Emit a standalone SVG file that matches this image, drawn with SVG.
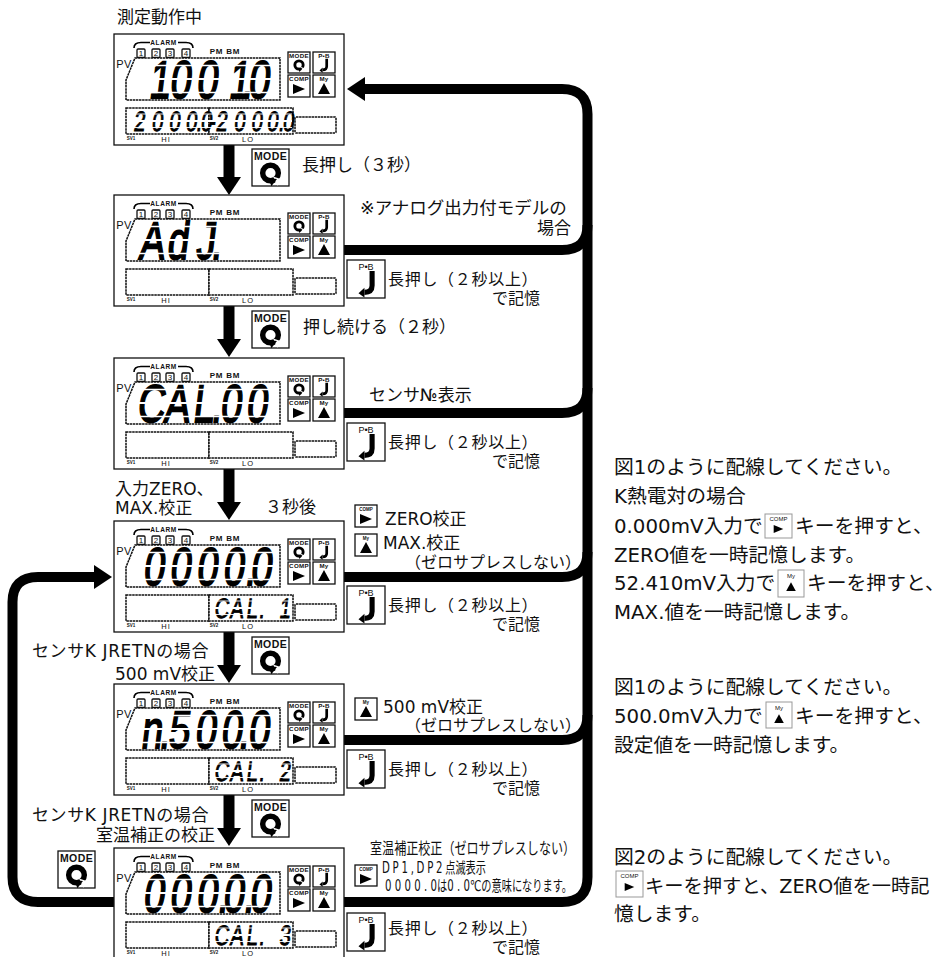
<svg xmlns="http://www.w3.org/2000/svg" width="943" height="957" viewBox="0 0 943 957">
<style>
text{font-family:"DejaVu Sans","Noto Sans CJK JP",sans-serif;fill:#111}
.t{font-size:17px}
.s{font-size:16px}
.p{font-size:16px;letter-spacing:.7px}
.r{font-size:19.8px}
.lab{font-family:"Liberation Sans",sans-serif;font-weight:700;text-anchor:middle}
.al{font-size:6.5px;letter-spacing:.6px}
.n{font-size:8px;font-weight:400}
.pm{font-size:8px;letter-spacing:.8px}
.pv{font-size:11px;font-weight:400;letter-spacing:.5px}
.k{font-size:6.2px;letter-spacing:.3px}
.ks{font-size:4.5px}
.ki{font-size:6px;font-weight:400}
.kl{font-size:10.5px;letter-spacing:.4px}
.pbl{font-size:9px;font-weight:400}
.sv{font-size:4.5px}
.hl{font-size:7.5px;font-weight:400;letter-spacing:1px}
.big,.mid{font-family:"Liberation Sans",sans-serif;font-weight:400;text-anchor:middle;fill:#000;stroke:#000}
.big{font-size:53px;stroke-width:1.8px}
.mid{font-size:28px;stroke-width:.9px}
.fr{fill:#fff;stroke:#111;stroke-width:1.3}
.lcd{fill:#fff;stroke:#111;stroke-width:1.5;stroke-dasharray:2.5 .6}
.key{fill:#fff;stroke:#111;stroke-width:1.3}
.lkey{fill:#fff;stroke:#999;stroke-width:1}
.gap{stroke:#fff;stroke-width:2;fill:none}
.gap2{stroke:#fff;stroke-width:1.3;fill:none}
.gap3{stroke:#fff;stroke-width:.9;fill:none}
.line{fill:none;stroke:#000;stroke-width:10}
.sh{stroke:#000;stroke-width:11;fill:none}
</style>
<defs>
<marker id="head" viewBox="0 0 18 24" refX="0" refY="12" markerUnits="userSpaceOnUse" markerWidth="18" markerHeight="24" orient="auto"><path d="M0,0L18,12L0,24Z" fill="#000"/></marker>
<g id="i-mode"><circle r="4.600" fill="none" stroke="#000" stroke-width="3.200"/><path d="M1.500,2L6,3.500L4,7.500Z" fill="#fff"/><path d="M-1.200,3L3.800,3.600L.5,7.800Z" fill="#000"/></g>
<g id="i-pb"><path d="M3,-7V1.500Q3,5.500-1.500,5.500" fill="none" stroke="#000" stroke-width="3"/><path d="M-1.500,2.800L-5,6L-1.500,8.500Z" fill="#000"/></g>
<path id="i-right" d="M-6,-5L6,0L-6,5Z" fill="#000"/>
<path id="i-up" d="M-6,5L0,-6L6,5Z" fill="#000"/>
<g id="frame">
<rect class="fr" x="0" y="0" width="230" height="111"/>
<path d="M20,14Q20,8.500 27,8.500H36M64,8.500H72Q79,8.500 79,14" fill="none" stroke="#000" stroke-width="1.600"/>
<rect class="key" x="23" y="15" width="8" height="8.500" rx="1"/><rect class="key" x="38" y="15" width="8" height="8.500" rx="1"/><rect class="key" x="52" y="15" width="8" height="8.500" rx="1"/><rect class="key" x="68" y="15" width="8" height="8.500" rx="1"/>
<path class="lcd" d="M21,24H166V66H12V46Z"/>
<rect class="key" x="174" y="18" width="22" height="21"/><rect class="key" x="199" y="18" width="22" height="21"/>
<rect class="key" x="174" y="41" width="22" height="22"/><rect class="key" x="199" y="41" width="22" height="22"/>
<use href="#i-mode" transform="translate(185,31) scale(.9)"/><use href="#i-pb" transform="translate(210,31) scale(.9)"/>
<use href="#i-right" transform="translate(185,55)"/><use href="#i-up" transform="translate(210,55)"/>
<rect class="lcd" x="12" y="74" width="83" height="26"/><rect class="lcd" x="95" y="74" width="84" height="26"/>
<rect class="lcd" x="181" y="83" width="41" height="16" rx="1"/>
</g>
</defs>
<rect width="943" height="957" fill="#fff"/>

<g id="connectors">
<path class="sh" marker-end="url(#head)" d="M229,144V177"/>
<path class="sh" marker-end="url(#head)" d="M229,305V339"/>
<path class="sh" marker-end="url(#head)" d="M229,468V502"/>
<path class="sh" marker-end="url(#head)" d="M229,632V665"/>
<path class="sh" marker-end="url(#head)" d="M229,795V828"/>
<path class="line" marker-end="url(#head)" d="M587.500,877V114Q587.500,89 562,89H365"/>
<path class="line" d="M344,250H562Q587.500,250 587.500,225"/>
<path class="line" d="M344,413H562Q587.500,413 587.500,388"/>
<path class="line" d="M344,577H562Q587.500,577 587.500,552"/>
<path class="line" d="M344,740H562Q587.500,740 587.500,715"/>
<path class="line" d="M344,902H562Q587.500,902 587.500,877"/>
<path class="line" marker-end="url(#head)" d="M114,902H38Q12.500,902 12.500,877V602Q12.500,577 38,577H94"/>
</g>

<g id="panel-1" transform="translate(114,34)">
<use href="#frame"/>
<text class="lab al" x="49.500" y="10.500">ALARM</text>
<text class="lab n" x="27" y="22">1</text><text class="lab n" x="42" y="22">2</text><text class="lab n" x="56" y="22">3</text><text class="lab n" x="72" y="22">4</text>
<text class="lab pm" x="111" y="20">PM BM</text><text class="lab pv" x="10" y="34">PV</text>
<text class="lab k" x="185" y="24">MODE</text><text class="lab k" x="210" y="24">P•B</text><text class="lab k" x="185" y="47">COMP</text><text class="lab k" x="210" y="47">My</text>
<text class="lab sv" x="17" y="106">SV1</text><text class="lab hl" x="52" y="108">HI</text><text class="lab sv" x="100" y="106">SV2</text><text class="lab hl" x="134" y="108">LO</text>
<text class="big" transform="translate(-2,64) skewX(-7) scale(.72,1)" x="65 94 131 150 176 187 203" xml:space="preserve">100 1.0</text>
<text class="mid" transform="translate(-1,97) skewX(-7) scale(.72,1)" x="36 61 85 108 119 129">2000.0</text>
<text class="mid" transform="translate(-1,97) skewX(-7) scale(.72,1)" x="137 150 175 199 221 233 243">-2000.0</text>
<path class="gap" d="M25,45H160M15,87H178"/><path class="gap2" d="M25,31.500H160M25,58.500H160"/><path class="gap3" d="M15,80H178M15,93.500H178"/>
</g>

<g id="panel-2" transform="translate(114,195)">
<use href="#frame"/>
<text class="lab al" x="49.500" y="10.500">ALARM</text>
<text class="lab n" x="27" y="22">1</text><text class="lab n" x="42" y="22">2</text><text class="lab n" x="56" y="22">3</text><text class="lab n" x="72" y="22">4</text>
<text class="lab pm" x="111" y="20">PM BM</text><text class="lab pv" x="10" y="34">PV</text>
<text class="lab k" x="185" y="24">MODE</text><text class="lab k" x="210" y="24">P•B</text><text class="lab k" x="185" y="47">COMP</text><text class="lab k" x="210" y="47">My</text>
<text class="lab sv" x="17" y="106">SV1</text><text class="lab hl" x="52" y="108">HI</text><text class="lab sv" x="100" y="106">SV2</text><text class="lab hl" x="134" y="108">LO</text>
<text class="big" transform="translate(-2,64) skewX(-7) scale(.72,1)" x="54 90 110 129 144" xml:space="preserve">Ad J.</text>
<path class="gap" d="M25,45H160"/><path class="gap2" d="M25,31.500H160M25,58.500H160"/>
</g>

<g id="panel-3" transform="translate(114,358)">
<use href="#frame"/>
<text class="lab al" x="49.500" y="10.500">ALARM</text>
<text class="lab n" x="27" y="22">1</text><text class="lab n" x="42" y="22">2</text><text class="lab n" x="56" y="22">3</text><text class="lab n" x="72" y="22">4</text>
<text class="lab pm" x="111" y="20">PM BM</text><text class="lab pv" x="10" y="34">PV</text>
<text class="lab k" x="185" y="24">MODE</text><text class="lab k" x="210" y="24">P•B</text><text class="lab k" x="185" y="47">COMP</text><text class="lab k" x="210" y="47">My</text>
<text class="lab sv" x="17" y="106">SV1</text><text class="lab hl" x="52" y="108">HI</text><text class="lab sv" x="100" y="106">SV2</text><text class="lab hl" x="134" y="108">LO</text>
<text class="big" transform="translate(-2,64) skewX(-7) scale(.72,1)" x="53 89 126 144 164 200">CAL.00</text>
<path class="gap" d="M25,45H160"/><path class="gap2" d="M25,31.500H160M25,58.500H160"/>
</g>

<g id="panel-4" transform="translate(114,521)">
<use href="#frame"/>
<text class="lab al" x="49.500" y="10.500">ALARM</text>
<text class="lab n" x="27" y="22">1</text><text class="lab n" x="42" y="22">2</text><text class="lab n" x="56" y="22">3</text><text class="lab n" x="72" y="22">4</text>
<text class="lab pm" x="111" y="20">PM BM</text><text class="lab pv" x="10" y="34">PV</text>
<text class="lab k" x="185" y="24">MODE</text><text class="lab k" x="210" y="24">P•B</text><text class="lab k" x="185" y="47">COMP</text><text class="lab k" x="210" y="47">My</text>
<text class="lab sv" x="17" y="106">SV1</text><text class="lab hl" x="52" y="108">HI</text><text class="lab sv" x="100" y="106">SV2</text><text class="lab hl" x="134" y="108">LO</text>
<text class="big" transform="translate(-2,64) skewX(-7) scale(.72,1)" x="57 94 131 168 191 206">0000.0</text>
<text class="mid" transform="translate(-1,97) skewX(-7) scale(.72,1)" x="150 171 192 206 222 238" xml:space="preserve">CAL. 1</text>
<path class="gap" d="M25,45H160M97,87H178"/><path class="gap2" d="M25,31.500H160M25,58.500H160"/><path class="gap3" d="M97,80H178M97,93.500H178"/>
</g>

<g id="panel-5" transform="translate(114,684)">
<use href="#frame"/>
<text class="lab al" x="49.500" y="10.500">ALARM</text>
<text class="lab n" x="27" y="22">1</text><text class="lab n" x="42" y="22">2</text><text class="lab n" x="56" y="22">3</text><text class="lab n" x="72" y="22">4</text>
<text class="lab pm" x="111" y="20">PM BM</text><text class="lab pv" x="10" y="34">PV</text>
<text class="lab k" x="185" y="24">MODE</text><text class="lab k" x="210" y="24">P•B</text><text class="lab k" x="185" y="47">COMP</text><text class="lab k" x="210" y="47">My</text>
<text class="lab sv" x="17" y="106">SV1</text><text class="lab hl" x="52" y="108">HI</text><text class="lab sv" x="100" y="106">SV2</text><text class="lab hl" x="134" y="108">LO</text>
<text class="big" transform="translate(-2,64) skewX(-7) scale(.72,1)" x="54 72 92 129 165 182 203">n.500.0</text>
<text class="mid" transform="translate(-1,97) skewX(-7) scale(.72,1)" x="150 171 192 206 222 238" xml:space="preserve">CAL. 2</text>
<path class="gap" d="M25,45H160M97,87H178"/><path class="gap2" d="M25,31.500H160M25,58.500H160"/><path class="gap3" d="M97,80H178M97,93.500H178"/>
</g>

<g id="panel-6" transform="translate(114,848)">
<use href="#frame"/>
<text class="lab al" x="49.500" y="10.500">ALARM</text>
<text class="lab n" x="27" y="22">1</text><text class="lab n" x="42" y="22">2</text><text class="lab n" x="56" y="22">3</text><text class="lab n" x="72" y="22">4</text>
<text class="lab pm" x="111" y="20">PM BM</text><text class="lab pv" x="10" y="34">PV</text>
<text class="lab k" x="185" y="24">MODE</text><text class="lab k" x="210" y="24">P•B</text><text class="lab k" x="185" y="47">COMP</text><text class="lab k" x="210" y="47">My</text>
<text class="lab sv" x="17" y="106">SV1</text><text class="lab hl" x="52" y="108">HI</text><text class="lab sv" x="100" y="106">SV2</text><text class="lab hl" x="134" y="108">LO</text>
<text class="big" transform="translate(-2,64) skewX(-7) scale(.72,1)" x="57 94 131 153 168 189 205">000.0.0</text>
<text class="mid" transform="translate(-1,97) skewX(-7) scale(.72,1)" x="150 171 192 206 222 238" xml:space="preserve">CAL. 3</text>
<path class="gap" d="M25,45H160M97,87H178"/><path class="gap2" d="M25,31.500H160M25,58.500H160"/><path class="gap3" d="M97,80H178M97,93.500H178"/>
</g>

<g id="key-mode-1" transform="translate(252,149)"><rect class="key" width="37" height="37"/><text class="lab kl" x="18.500" y="11">MODE</text><use href="#i-mode" transform="translate(18.500,24) scale(1.700)"/></g>
<g id="key-mode-2" transform="translate(252,311)"><rect class="key" width="37" height="37"/><text class="lab kl" x="18.500" y="11">MODE</text><use href="#i-mode" transform="translate(18.500,24) scale(1.700)"/></g>
<g id="key-mode-3" transform="translate(252,637)"><rect class="key" width="37" height="37"/><text class="lab kl" x="18.500" y="11">MODE</text><use href="#i-mode" transform="translate(18.500,24) scale(1.700)"/></g>
<g id="key-mode-4" transform="translate(252,800)"><rect class="key" width="37" height="37"/><text class="lab kl" x="18.500" y="11">MODE</text><use href="#i-mode" transform="translate(18.500,24) scale(1.700)"/></g>
<g id="key-mode-5" transform="translate(58,851)"><rect class="key" width="37" height="37"/><text class="lab kl" x="18.500" y="11">MODE</text><use href="#i-mode" transform="translate(18.500,24) scale(1.700)"/></g>
<g id="key-pb-1" transform="translate(347,260)"><rect class="key" width="38" height="38"/><text class="lab pbl" x="19" y="10">P•B</text><use href="#i-pb" transform="translate(20,23) scale(1.700)"/></g>
<g id="key-pb-2" transform="translate(347,423)"><rect class="key" width="38" height="38"/><text class="lab pbl" x="19" y="10">P•B</text><use href="#i-pb" transform="translate(20,23) scale(1.700)"/></g>
<g id="key-pb-3" transform="translate(347,586)"><rect class="key" width="38" height="38"/><text class="lab pbl" x="19" y="10">P•B</text><use href="#i-pb" transform="translate(20,23) scale(1.700)"/></g>
<g id="key-pb-4" transform="translate(347,750)"><rect class="key" width="38" height="38"/><text class="lab pbl" x="19" y="10">P•B</text><use href="#i-pb" transform="translate(20,23) scale(1.700)"/></g>
<g id="key-pb-5" transform="translate(347,913)"><rect class="key" width="38" height="38"/><text class="lab pbl" x="19" y="10">P•B</text><use href="#i-pb" transform="translate(20,23) scale(1.700)"/></g>
<g id="key-comp-a" transform="translate(355,505)"><rect class="key" width="22" height="22"/><text class="lab ks" x="11" y="6">COMP</text><use href="#i-right" transform="translate(11,14)"/></g>
<g id="key-my-a" transform="translate(355,534)"><rect class="key" width="22" height="22"/><text class="lab ks" x="11" y="6">My</text><use href="#i-up" transform="translate(11,14)"/></g>
<g id="key-my-b" transform="translate(355,698)"><rect class="key" width="22" height="22"/><text class="lab ks" x="11" y="6">My</text><use href="#i-up" transform="translate(11,14)"/></g>
<g id="key-comp-b" transform="translate(355,865)"><rect class="key" width="22" height="21"/><text class="lab ks" x="11" y="6">COMP</text><use href="#i-right" transform="translate(11,14)"/></g>

<g id="labels">
<text class="t" x="117" y="23">測定動作中</text>
<text class="t" x="302" y="171">長押し（３秒）</text>
<text class="t" x="360" y="214" style="font-size:17.500px">※アナログ出力付モデルの</text>
<text class="t" x="537" y="234">場合</text>
<text class="p" x="388" y="285">長押し（２秒以上）</text>
<text class="s" x="492" y="304">で記憶</text>
<text class="t" x="303" y="333">押し続ける（２秒）</text>
<text class="t" x="369" y="401">センサ№表示</text>
<text class="p" x="388" y="448">長押し（２秒以上）</text>
<text class="s" x="492" y="467">で記憶</text>
<text class="t" x="115" y="494.500">入力ZERO、</text>
<text class="t" x="115" y="514">MAX.校正</text>
<text class="t" x="265" y="513">３秒後</text>
<text class="t" x="385" y="525">ZERO校正</text>
<text class="t" x="383" y="549">MAX.校正</text>
<text class="s" x="405" y="568">（ゼロサプレスしない）</text>
<text class="p" x="388" y="611">長押し（２秒以上）</text>
<text class="s" x="492" y="630">で記憶</text>
<text class="t" x="32" y="657" letter-spacing=".6">センサK JRETNの場合</text>
<text class="t" x="115" y="680">500 mV校正</text>
<text class="t" x="383" y="713">500 mV校正</text>
<text class="s" x="405" y="731">（ゼロサプレスしない）</text>
<text class="p" x="388" y="775">長押し（２秒以上）</text>
<text class="s" x="492" y="794">で記憶</text>
<text class="t" x="32" y="821" letter-spacing=".6">センサK JRETNの場合</text>
<text class="t" x="96" y="841">室温補正の校正</text>
<text class="s" transform="translate(370,854) scale(.755,1)">室温補正校正（ゼロサプレスしない）</text>
<text transform="translate(382,873) scale(.68,1)" font-size="15"><tspan letter-spacing="4">DP1,DP2</tspan>点滅表示</text>
<text transform="translate(385,891) scale(.68,1)" font-size="15"><tspan letter-spacing="4.800">0000.</tspan>0は<tspan letter-spacing="4.800">0.</tspan>0℃の意味になります。</text>
<text class="p" x="388" y="934">長押し（２秒以上）</text>
<text class="s" x="492" y="953">で記憶</text>
<text class="r" x="614" y="474">図1のように配線してください。</text>
<text class="r" x="614" y="503">K熱電対の場合</text>
<text class="r" x="614" y="533">0.000mV入力で</text>
<text class="r" x="795" y="533">キーを押すと、</text>
<text class="r" x="614" y="562">ZERO値を一時記憶します。</text>
<text class="r" x="614" y="590">52.410mV入力で</text>
<text class="r" x="807" y="590">キーを押すと、</text>
<text class="r" x="614" y="619">MAX.値を一時記憶します。</text>
<text class="r" x="614" y="694">図1のように配線してください。</text>
<text class="r" x="614" y="723">500.0mV入力で</text>
<text class="r" x="795" y="723">キーを押すと、</text>
<text class="r" x="614" y="752">設定値を一時記憶します。</text>
<text class="r" x="614" y="864">図2のように配線してください。</text>
<text class="r" x="645" y="893" style="font-size:19.300px">キーを押すと、ZERO値を一時記</text>
<text class="r" x="614" y="921">憶します。</text>
</g>
<g id="key-inline-1" transform="translate(765,514)"><rect class="lkey" width="27" height="24"/><text class="lab ki" x="13.500" y="7">COMP</text><use href="#i-right" transform="translate(13.500,15) scale(.8)"/></g>
<g id="key-inline-2" transform="translate(778,570)"><rect class="lkey" width="26" height="27"/><text class="lab ki" x="13" y="8">My</text><use href="#i-up" transform="translate(13,17) scale(.8)"/></g>
<g id="key-inline-3" transform="translate(766,702)"><rect class="lkey" width="26" height="26"/><text class="lab ki" x="13" y="8">My</text><use href="#i-up" transform="translate(13,17) scale(.8)"/></g>
<g id="key-inline-4" transform="translate(616,871)"><rect class="lkey" width="27" height="26"/><text class="lab ki" x="13.500" y="7">COMP</text><use href="#i-right" transform="translate(13.500,16) scale(.8)"/></g>
</svg>
